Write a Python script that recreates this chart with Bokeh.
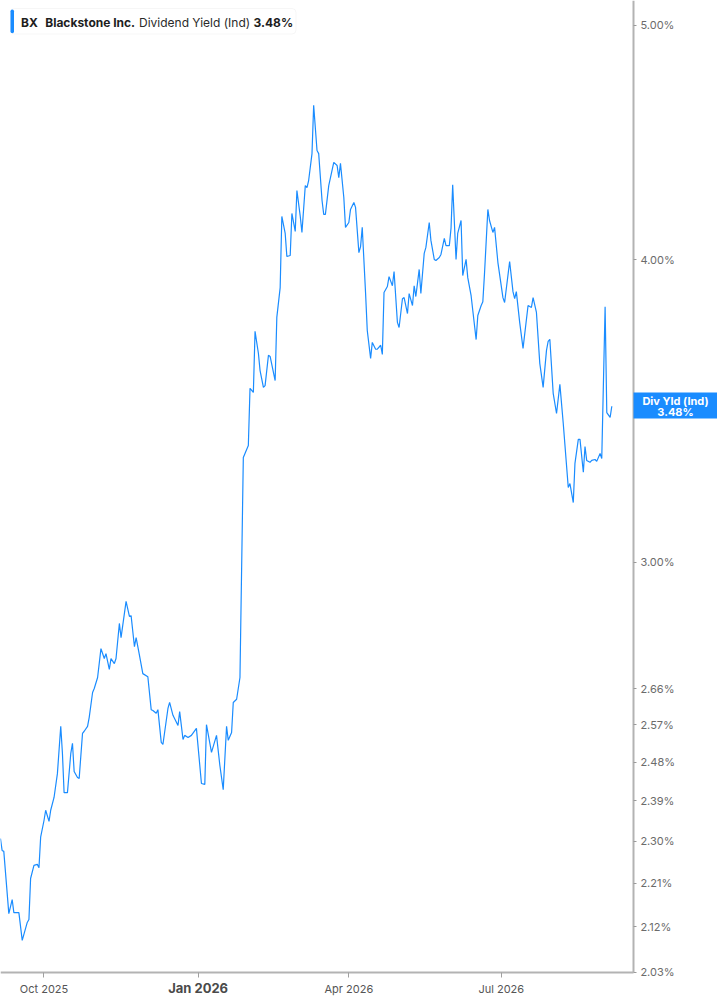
import pandas as pd
from bokeh.plotting import figure
from bokeh.models import (Range1d, FixedTicker, PrintfTickFormatter, Label,
                          BoxAnnotation, ColumnDataSource)
from bokeh.embed import file_html
from bokeh.resources import INLINE

# ---------------- data ----------------
base_date = "2025-10-01"
# calendar-day offsets from base_date
day_offsets = [
    -26, -25, -24, -21, -19, -18, -15, -13, -10, -9,
    -8, -6, -4, -3, -2, 0, 1, 3, 4, 6,
    8, 10, 11, 12, 14, 16, 17, 18, 20, 21,
    23, 24, 26, 27, 29, 30, 32, 34, 36, 37,
    39, 40, 42, 43, 45, 46, 49, 51, 52, 54,
    55, 57, 59, 62, 64, 65, 67, 68, 70, 71,
    74, 75, 77, 80, 81, 83, 84, 86, 88, 91,
    94, 96, 97, 100, 103, 105, 107, 109, 110, 112,
    113, 115, 117, 119, 120, 122, 123, 125, 126, 128,
    129, 131, 132, 134, 135, 138, 139, 141, 142, 144,
    145, 147, 148, 150, 151, 153, 154, 156, 157, 158,
    160, 161, 163, 164, 166, 167, 168, 170, 173, 175,
    176, 177, 179, 180, 182, 183, 185, 186, 188, 189,
    190, 192, 193, 195, 196, 198, 199, 201, 202, 203,
    205, 206, 208, 209, 211, 212, 214, 215, 217, 218,
    220, 221, 222, 224, 225, 227, 228, 230, 231, 233,
    234, 236, 237, 239, 240, 242, 243, 244, 246, 247,
    249, 250, 252, 253, 255, 256, 258, 259, 261, 262,
    263, 265, 266, 268, 269, 271, 274, 275, 278, 280,
    281, 282, 284, 286, 289, 291, 292, 294, 296, 298,
    300, 301, 302, 304, 306, 308, 310, 313, 314, 316,
    317, 319, 320, 322, 323, 324, 326, 327, 329, 330,
    332, 333, 335, 336, 338, 339,
]
# dividend yield (%)
div_yield = [
    2.306, 2.280, 2.278, 2.147, 2.176, 2.149, 2.149, 2.093, 2.129, 2.135,
    2.220, 2.248, 2.250, 2.243, 2.309, 2.346, 2.369, 2.344, 2.369, 2.398,
    2.453, 2.566, 2.501, 2.409, 2.409, 2.501, 2.525, 2.458, 2.444, 2.442,
    2.549, 2.554, 2.566, 2.588, 2.650, 2.660, 2.688, 2.763, 2.737, 2.750,
    2.709, 2.737, 2.724, 2.737, 2.830, 2.792, 2.890, 2.849, 2.851, 2.768,
    2.792, 2.745, 2.698, 2.690, 2.607, 2.605, 2.598, 2.607, 2.527, 2.522,
    2.610, 2.625, 2.593, 2.568, 2.602, 2.534, 2.544, 2.539, 2.544, 2.561,
    2.430, 2.428, 2.570, 2.503, 2.544, 2.472, 2.416, 2.566, 2.532, 2.551,
    2.625, 2.633, 2.688, 3.314, 3.327, 3.352, 3.540, 3.526, 3.737, 3.660,
    3.600, 3.543, 3.549, 3.653, 3.649, 3.566, 3.787, 3.896, 4.169, 4.102,
    4.013, 4.017, 4.181, 4.110, 4.273, 4.169, 4.106, 4.293, 4.285, 4.314,
    4.426, 4.634, 4.439, 4.426, 4.233, 4.177, 4.177, 4.293, 4.389, 4.376,
    4.326, 4.385, 4.245, 4.126, 4.145, 4.197, 4.225, 4.205, 4.028, 4.051,
    4.126, 3.874, 3.740, 3.642, 3.698, 3.674, 3.674, 3.688, 3.656, 3.878,
    3.900, 3.937, 3.903, 3.956, 3.769, 3.751, 3.855, 3.859, 3.801, 3.874,
    3.830, 3.903, 3.863, 3.964, 3.874, 4.025, 4.048, 4.145, 4.075, 4.002,
    3.998, 4.009, 4.021, 4.083, 4.055, 4.055, 4.122, 4.297, 4.002, 4.102,
    4.153, 3.941, 4.002, 3.933, 3.866, 3.812, 3.708, 3.794, 3.830, 3.844,
    3.949, 4.197, 4.153, 4.106, 4.126, 3.990, 3.859, 3.841, 3.994, 3.881,
    3.855, 3.881, 3.769, 3.677, 3.830, 3.823, 3.859, 3.805, 3.625, 3.543,
    3.670, 3.702, 3.709, 3.523, 3.456, 3.553, 3.424, 3.221, 3.233, 3.175,
    3.296, 3.372, 3.372, 3.268, 3.349, 3.305, 3.299, 3.305, 3.308, 3.302,
    3.327, 3.311, 3.826, 3.459, 3.443, 3.480,
]
assert len(day_offsets) == len(div_yield)

y_ticks = [2.03, 2.12, 2.21, 2.30, 2.39, 2.48, 2.57, 2.66, 3.00, 4.00, 5.00]
x_tick_dates = ["2025-10-01", "2026-01-01", "2026-04-01", "2026-07-01"]
x_tick_labels = ["Oct 2025", "Jan 2026", "Apr 2026", "Jul 2026"]
bold_tick = "Jan 2026"
ticker_symbol = "BX"
company = "Blackstone Inc."
metric = "Dividend Yield (Ind)"
latest_value = 3.48
latest = "3.48%"
badge_name = "Div Yld (Ind)"
# visible windows (days from base_date / yield %) and axis positions
x_view_days = (-25.97, 402.1)
x_axis_end_day = 351.9
y_view = (1.9672, 5.1204)
y_axis_floor = 2.03

# ---------------- build ----------------
base = pd.Timestamp(base_date)
dates = base + pd.to_timedelta(day_offsets, unit="D")
src = ColumnDataSource(dict(date=dates, yld=div_yield))


def ms(day):
    return (base + pd.Timedelta(days=day)).value / 1e6


BLUE = "#1a8cff"
FONT = "Inter"
W, H = 717, 1005

p = figure(frame_width=W, frame_height=H,
           x_axis_type="datetime", y_axis_type="log", y_axis_location="right",
           x_range=Range1d(ms(x_view_days[0]), ms(x_view_days[1])),
           y_range=Range1d(*y_view),
           output_backend="svg", toolbar_location=None, min_border=0)
p.outline_line_color = None
p.xgrid.visible = False
p.ygrid.visible = False
p.background_fill_color = "white"
p.border_fill_color = "white"

p.line(x="date", y="yld", source=src, line_color=BLUE, line_width=1.2)

# y axis (right, pinned at the end of the time axis)
yax = p.yaxis[0]
yax.fixed_location = ms(x_axis_end_day)
yax.bounds = (y_axis_floor, y_view[1])
yax.ticker = FixedTicker(ticks=y_ticks)
yax.formatter = PrintfTickFormatter(format="%.2f%%")
yax.major_tick_in = 0
yax.major_tick_out = 3
yax.minor_tick_line_color = None
yax.major_tick_line_color = "#9a9a9a"
yax.axis_line_color = "#b3b3b3"
yax.axis_line_width = 2
yax.major_label_text_font = FONT
yax.major_label_text_font_size = "11px"
yax.major_label_text_color = "#6b6b6b"
yax.major_label_standoff = 4

# x axis (pinned at the lowest y tick)
tick_ms = [pd.Timestamp(d).value / 1e6 for d in x_tick_dates]
xax = p.xaxis[0]
xax.fixed_location = y_axis_floor
xax.bounds = (ms(x_view_days[0]), ms(x_axis_end_day))
xax.ticker = FixedTicker(ticks=tick_ms)
xax.major_label_overrides = {t: ("" if lab == bold_tick else lab)
                             for t, lab in zip(tick_ms, x_tick_labels)}
xax.major_tick_in = 0
xax.major_tick_out = 5
xax.minor_tick_line_color = None
xax.major_tick_line_color = "#a0a0a0"
xax.axis_line_color = "#b3b3b3"
xax.axis_line_width = 2
xax.major_label_text_font = FONT
xax.major_label_text_font_size = "11px"
xax.major_label_text_color = "#555555"
xax.major_label_standoff = 5

for t, lab in zip(tick_ms, x_tick_labels):
    if lab == bold_tick:
        p.add_layout(Label(x=t, y=y_axis_floor, y_offset=-16, text=lab,
                           text_font=FONT, text_font_size="13px",
                           text_font_style="bold", text_color="#4a4a4a",
                           text_align="center", text_baseline="middle"))


def scr(top_px, bottom_px, left_px, right_px, **kw):
    return BoxAnnotation(left=left_px, right=right_px,
                         top=H - top_px, bottom=H - bottom_px,
                         left_units="screen", right_units="screen",
                         top_units="screen", bottom_units="screen",
                         level="overlay", **kw)


# header box (top-left)
p.add_layout(scr(8, 33.5, 10, 295.5, fill_color="white", fill_alpha=1,
                 line_color="#e2e2e2", line_width=1, border_radius=4))
p.add_layout(scr(9, 32.7, 10, 13.5, fill_color=BLUE, fill_alpha=1,
                 line_color=None, border_radius=2))
header = [(ticker_symbol, 20.5, "bold", "#1e1e1e"),
          (company, 44.7, "bold", "#1e1e1e"),
          (metric, 138.5, "normal", "#2a2a2a"),
          (latest, 253, "bold", "#1e1e1e")]
for txt, xs, style, col in header:
    p.add_layout(Label(x=xs, y=H - 21.5, x_units="screen", y_units="screen",
                       text=txt, text_font=FONT, text_font_size="12px",
                       text_font_style=style, text_color=col,
                       text_align="left", text_baseline="middle",
                       level="overlay"))

# last-value badge on the right axis
p.add_layout(scr(392, 418, 633, 717, fill_color=BLUE, fill_alpha=1,
                 line_color=None))
p.add_layout(Label(x=675, y=latest_value, x_units="screen", y_offset=5.5,
                   text=badge_name, text_font=FONT, text_font_size="11px",
                   text_font_style="bold", text_color="white",
                   text_align="center", text_baseline="middle", level="overlay"))
p.add_layout(Label(x=675, y=latest_value, x_units="screen", y_offset=-6,
                   text=latest, text_font=FONT, text_font_size="11px",
                   text_font_style="bold", text_color="white",
                   text_align="center", text_baseline="middle", level="overlay"))

open("out.html", "w").write(file_html(p, INLINE))
